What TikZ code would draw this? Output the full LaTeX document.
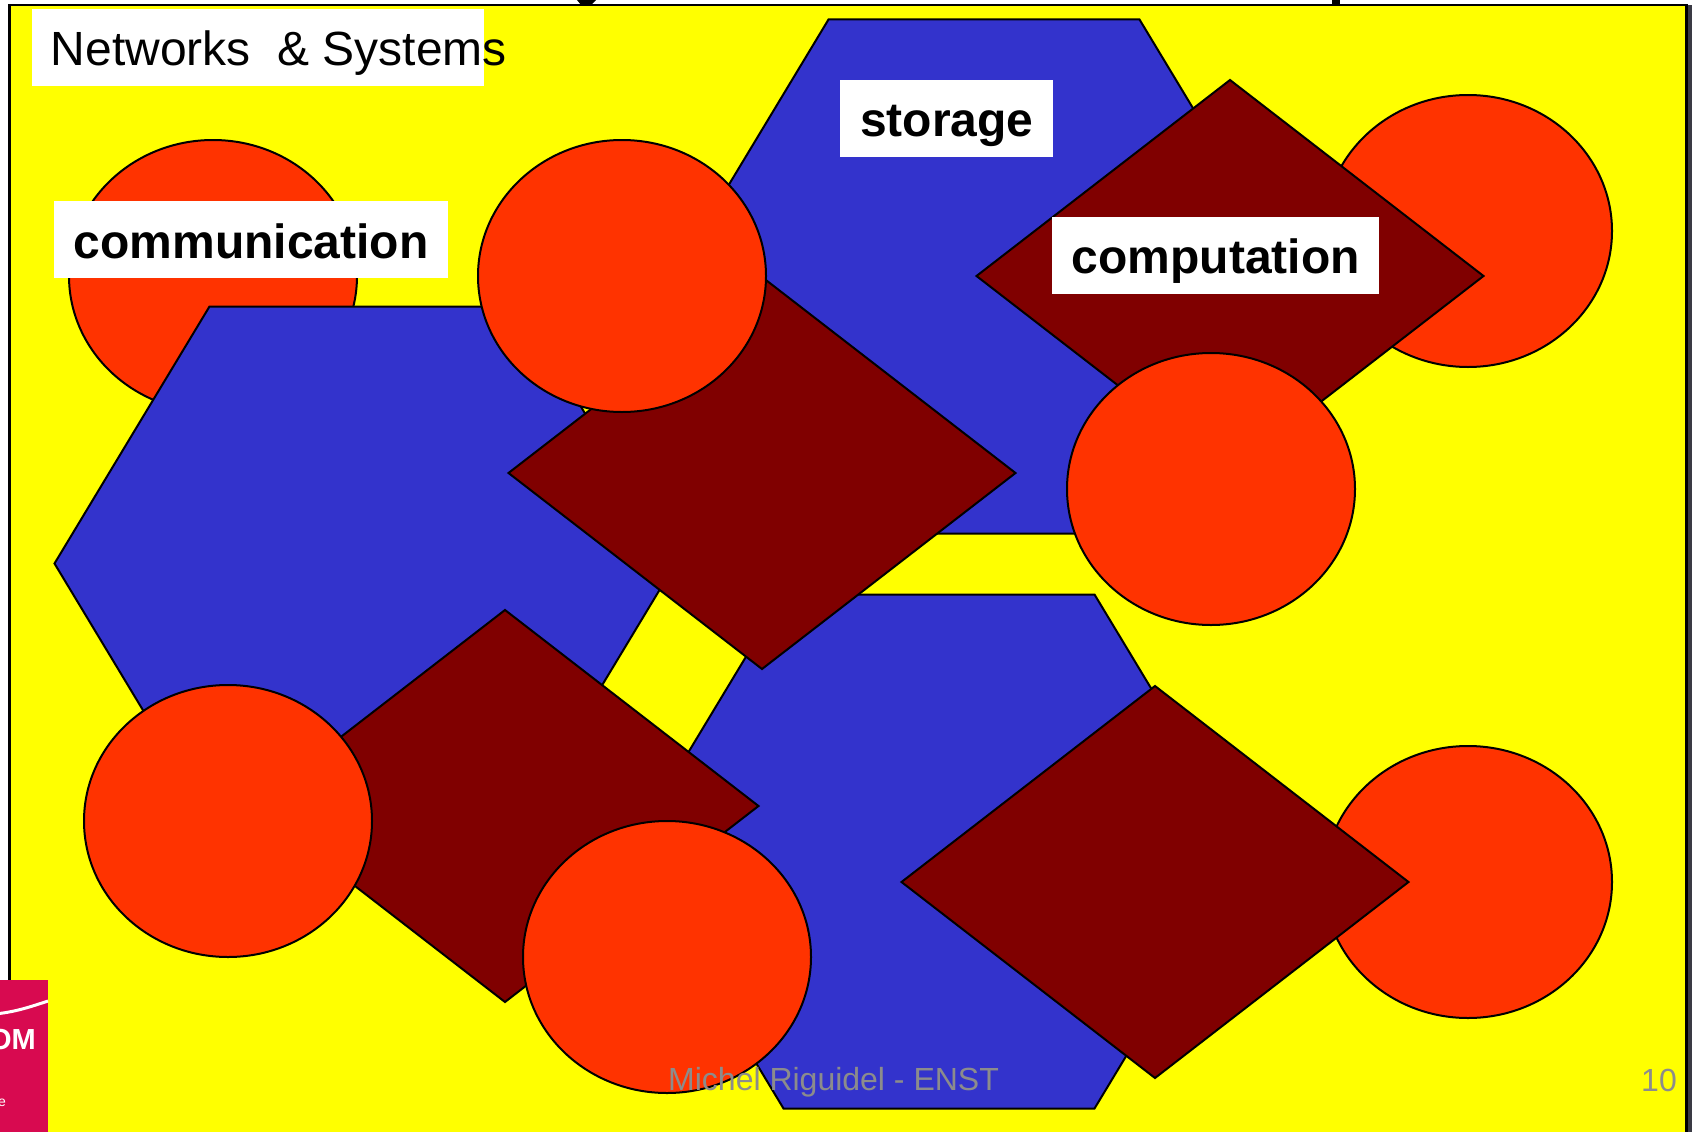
\documentclass[tikz,border=0pt]{standalone}
\usepackage{fontspec}
\setmainfont{Liberation Sans}
\definecolor{bgyellow}{HTML}{FFFF00}
\definecolor{hexblue}{HTML}{3333CC}
\definecolor{diared}{HTML}{800000}
\definecolor{circred}{HTML}{FF3300}
\definecolor{logopink}{HTML}{D80A50}
\definecolor{footgray}{HTML}{8C8C8C}
\definecolor{edgedark}{HTML}{3A3A44}
\tikzset{
  hexshape/.style={fill=hexblue,draw=black,line width=2pt,line join=miter},
  diashape/.style={fill=diared,draw=black,line width=2pt,line join=miter},
  circshape/.style={fill=circred,draw=black,line width=2pt},
  labelbox/.style={fill=white,inner sep=0pt,anchor=north west},
  labeltext/.style={inner sep=0pt,font=\fontsize{48}{48}\selectfont\bfseries},
  foot/.style={text=footgray,inner sep=0pt,font=\fontsize{32}{32}\selectfont}
}
\newcommand{\hexat}[2]{\draw[hexshape] (#1-310.5,#2) -- (#1-155.5,#2-257) -- (#1+155.5,#2-257) -- (#1+310.5,#2) -- (#1+155.5,#2+257) -- (#1-155.5,#2+257) -- cycle;}
\newcommand{\diaat}[2]{\draw[diashape] (#1-253.5,#2) -- (#1,#2-196) -- (#1+253.5,#2) -- (#1,#2+196) -- cycle;}
\newcommand{\circat}[2]{\draw[circshape] (#1,#2) ellipse [x radius=144,y radius=136];}
\begin{document}
\begin{tikzpicture}[x=1pt,y=-1pt]
\useasboundingbox (0,0) rectangle (1692,1132);
\fill[white] (0,0) rectangle (1692,1132);
\fill[edgedark] (1686,5) rectangle (1692,1132);
\draw[fill=bgyellow,draw=black,line width=2.2pt] (9.5,5) -- (1686.5,5) -- (1686.5,1140) -- (9.5,1140) -- cycle;
% black remains of the cut title
\fill[black] (577,0) -- (596,0) -- (591,5) -- (581,5) -- cycle;
\fill[black] (1332,0) rectangle (1340,5);
% circles under the others
\circat{213}{276}
\circat{1468}{231}
\circat{1468}{882}
% hexagons
\hexat{984}{276.5}
\hexat{365}{563.5}
\hexat{939}{851.5}
% diamonds
\diaat{1230}{276}
\diaat{762}{473}
\diaat{505}{806}
\diaat{1155}{882}
% circles over
\circat{622}{276}
\circat{1211}{489}
\circat{228}{821}
\circat{667}{957}
% labels
\node[labelbox,minimum width=452pt,minimum height=77pt] (netbox) at (32,9) {};
\node[anchor=west,inner sep=0pt,font=\fontsize{48}{48}\selectfont] (nettext) at (50.5,53) {Networks\ \ \& Systems};
\node[labelbox,minimum width=394pt,minimum height=77pt] (commbox) at (54,201) {};
\node[labeltext,anchor=west] (comm) at (73.5,241) {communication};
\node[labelbox,minimum width=213pt,minimum height=77pt] (storbox) at (840,80) {};
\node[labeltext,anchor=west] (stor) at (860,125.5) {storage};
\node[labelbox,minimum width=327pt,minimum height=77pt] (compbox) at (1052,217) {};
\node[labeltext,anchor=west] (comp) at (1071.5,261) {computation};
% logo
\begin{scope}
\clip (0,980) rectangle (48,1132);
\fill[logopink] (0,980) rectangle (48,1132);
\draw[white,line width=3pt] (-5,1014) .. controls (15,1012) and (30,1007) .. (48,1001);
\node[text=white,inner sep=0pt,anchor=east,font=\fontsize{29}{29}\selectfont\bfseries] (logo) at (36,1040) {OM};
\node[text=white,inner sep=0pt,anchor=east,font=\fontsize{14}{14}\selectfont] (logob) at (6,1103) {e};
\end{scope}
\node[foot,anchor=west] (author) at (668,1082) {Michel Riguidel - ENST};
\node[foot,anchor=east] (page) at (1677,1080) {10};
\end{tikzpicture}
\end{document}
